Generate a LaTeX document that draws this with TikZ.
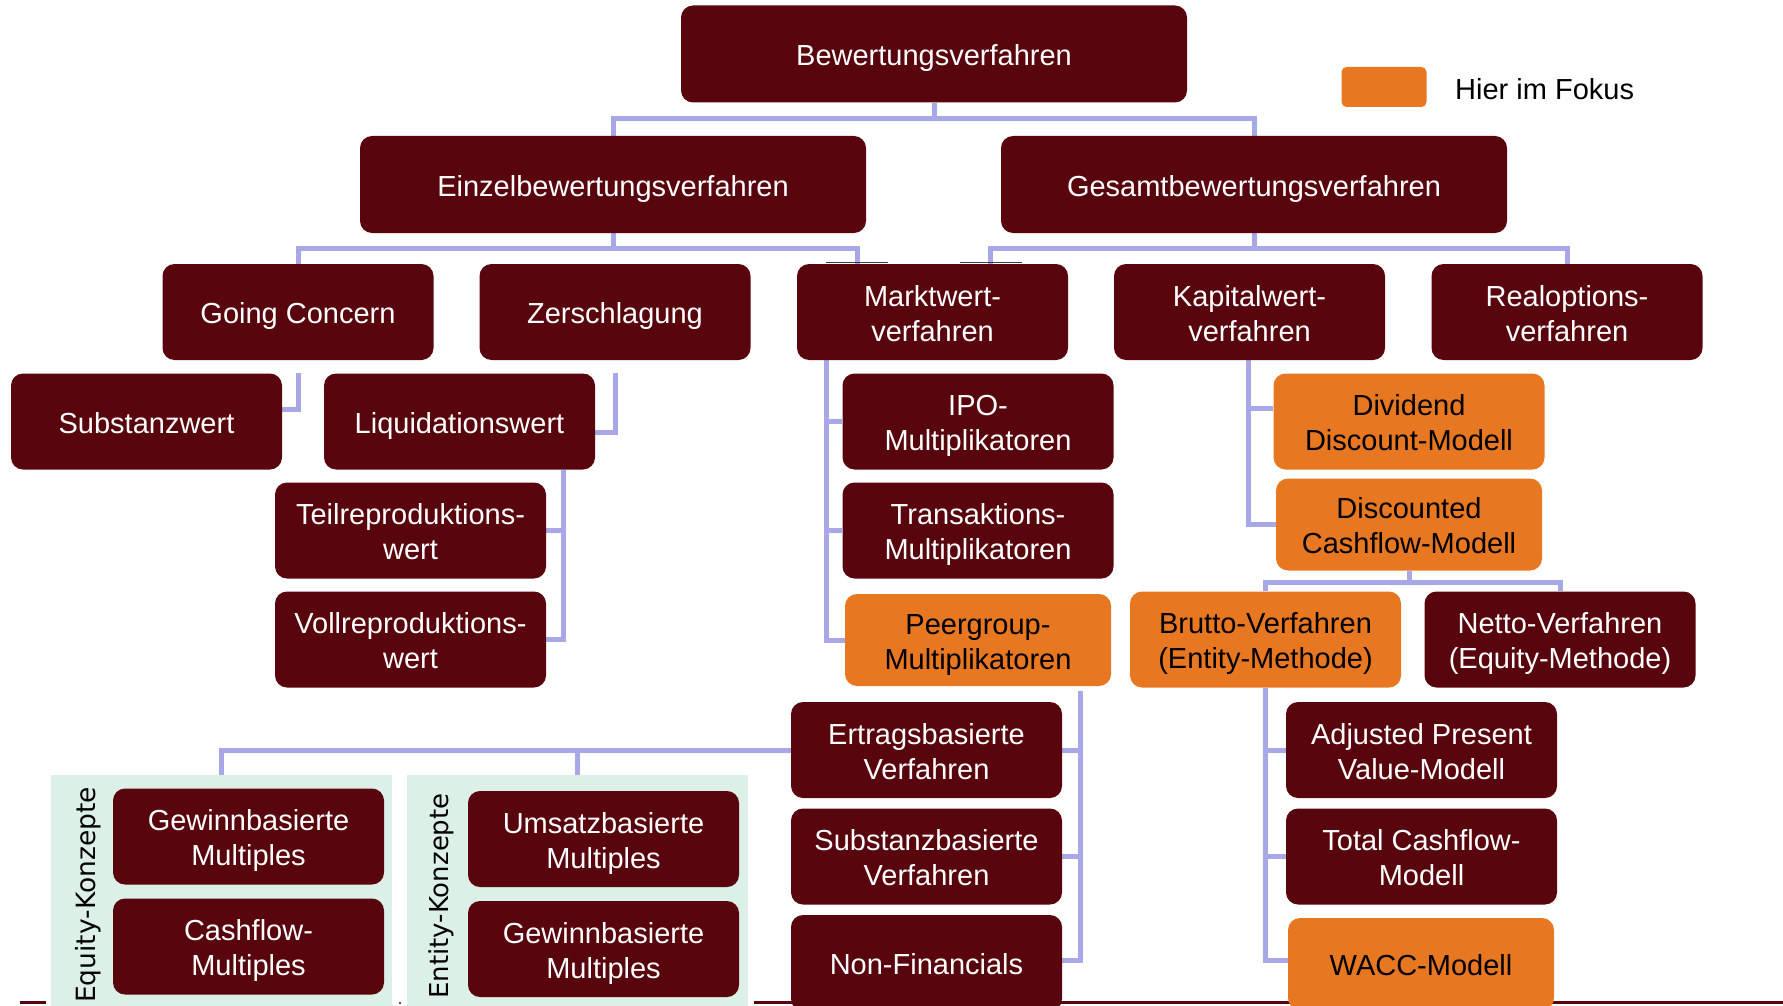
\documentclass[tikz,border=0pt]{standalone}
\usepackage{fontspec}
\setmainfont{Liberation Sans}
\newfontfamily\dejavu{DejaVu Sans}
\usetikzlibrary{backgrounds}
\definecolor{boxred}{HTML}{58050E}
\definecolor{focus}{HTML}{E87722}
\definecolor{connc}{HTML}{A8A8E8}
\definecolor{bggreen}{HTML}{DCF0E7}
\definecolor{markc}{HTML}{3A3A3A}
\newcommand\bx[1]{\raisebox{-4.5pt}[\height][\depth]{\begin{tabular}{@{}c@{}}#1\end{tabular}}}
\tikzset{
 box/.style={rounded corners=12pt, fill=boxred, text=white,
   font=\fontsize{29}{35}\selectfont, minimum width=271pt, minimum height=96pt, inner sep=0pt},
 focusbox/.style={box, fill=focus, text=black, minimum width=266pt, minimum height=92pt},
 widebox/.style={minimum width=506pt, minimum height=97pt},
 link/.style={draw=connc, line width=5pt, line join=miter},
 groupbg/.style={fill=bggreen, draw=none, anchor=north west, inner sep=0pt,
   minimum width=341pt, minimum height=240pt},
 grouplabel/.style={rotate=90, font=\dejavu\fontsize{26.5}{30}\selectfont, inner sep=0pt},
}
\begin{document}
\begin{tikzpicture}[x=1pt,y=-1pt]
\useasboundingbox (0,0) rectangle (1783,1006);
\clip (0,0) rectangle (1783,1006);

% bottom rule
\draw[boxred, line width=3pt] (20,1002) -- (46,1002);
\draw[boxred, line width=3pt] (754,1002) -- (1783,1002);
\fill[boxred] (400,1003) circle (1.2pt);

% group backgrounds
\node[groupbg] (eqbg) at (51,775) {};
\node[groupbg] (enbg) at (407,775) {};
\node[grouplabel] (eqlabel) at (88,895) {Equity-Konzepte};
\node[grouplabel, font=\dejavu\fontsize{26}{30}\selectfont] (enlabel) at (441,896) {Entity-Konzepte};

% nodes
\node[box, widebox] (bew) at (934,54) {\bx{Bewertungsverfahren}};
\node[box, widebox] (einz) at (613,184.5) {\bx{Einzelbewertungsverfahren}};
\node[box, widebox] (gesamt) at (1254,184.5) {\bx{Gesamtbewertungsverfahren}};

\node[box] (going) at (298,312) {\bx{Going Concern}};
\node[box] (zersch) at (615,312) {\bx{Zerschlagung}};
\node[box] (markt) at (932.5,312) {\bx{Marktwert-\\verfahren}};
\node[box] (kapital) at (1249.5,312) {\bx{Kapitalwert-\\verfahren}};
\node[box] (realopt) at (1567,312) {\bx{Realoptions-\\verfahren}};

\node[box] (substanz) at (146.5,421.5) {\bx{Substanzwert}};
\node[box] (liquid) at (459.5,421.5) {\bx{Liquidationswert}};
\node[box] (teil) at (410.5,530.5) {\bx{Teilreproduktions-\\wert}};
\node[box] (voll) at (410.5,639.5) {\bx{Vollreproduktions-\\wert}};

\node[box] (ipo) at (978,421.5) {\bx{IPO-\\Multiplikatoren}};
\node[box] (trans) at (978,530.5) {\bx{Transaktions-\\Multiplikatoren}};
\node[focusbox] (peer) at (978,640) {\bx{Peergroup-\\Multiplikatoren}};

\node[box, fill=focus, text=black] (ddm) at (1409,421.5) {\bx{Dividend\\Discount-Modell}};
\node[focusbox] (dcf) at (1409,524.5) {\bx{Discounted\\Cashflow-Modell}};
\node[box, fill=focus, text=black] (brutto) at (1265.5,639.5) {\bx{Brutto-Verfahren\\(Entity-Methode)}};
\node[box] (netto) at (1560,639.5) {\bx{Netto-Verfahren\\(Equity-Methode)}};

\node[box] (ertrag) at (926.5,750) {\bx{Ertragsbasierte\\Verfahren}};
\node[box] (substb) at (926.5,856.5) {\bx{Substanzbasierte\\Verfahren}};
\node[box] (nonfin) at (926.5,963) {\bx{Non-Financials}};

\node[box] (apv) at (1421.5,750) {\bx{Adjusted Present\\Value-Modell}};
\node[box] (tcf) at (1421.5,856.5) {\bx{Total Cashflow-\\Modell}};
\node[focusbox] (wacc) at (1421,964) {\bx{WACC-Modell}};

\node[box] (gew1) at (248.5,836.5) {\bx{Gewinnbasierte\\Multiples}};
\node[box] (cash) at (248.5,946.5) {\bx{Cashflow-\\Multiples}};
\node[box] (ums) at (603.5,839) {\bx{Umsatzbasierte\\Multiples}};
\node[box] (gew2) at (603.5,949) {\bx{Gewinnbasierte\\Multiples}};

% legend
\node[fill=focus, rounded corners=5pt, minimum width=85pt, minimum height=40pt, inner sep=0pt] (leg) at (1384,87) {};
\node[anchor=base west, inner sep=0pt, font=\fontsize{29}{35}\selectfont] (legtext) at (1455,99.5) {Hier im Fokus};

% small dark marks on top of Marktwert box
\draw[markc, line width=1.5pt] ([xshift=-106.5pt,yshift=1.5pt]markt.north) -- ++(62,0);
\draw[markc, line width=1.5pt] ([xshift=27.5pt,yshift=1.5pt]markt.north) -- ++(62,0);

% connectors (drawn behind boxes)
\begin{scope}[on background layer]
 % level 1
 \draw[link] (bew.south) -- ++(0,16) coordinate (j1);
 \draw[link] (einz.north) |- (j1) -| (gesamt.north);
 % level 2
 \draw[link] (einz.south) -- ++(0,15) coordinate (j2);
 \draw[link] (going.north) |- (j2) -| ([xshift=-75.5pt]markt.north);
 \draw[link] (gesamt.south) -- ++(0,15) coordinate (j3);
 \draw[link] ([xshift=57.5pt]markt.north) |- (j3) -| (realopt.north);
 % Going Concern / Zerschlagung
 \draw[link] (going.south |- substanz.north) |- ([yshift=12.5pt]substanz.east);
 \draw[link] (zersch.south |- liquid.north) |- ([yshift=-10.5pt]liquid.east);
 % Liquidationswert
 \coordinate (v6) at ([xshift=17pt]teil.east);
 \draw[link] (v6 |- liquid.south) |- (voll.east);
 \draw[link] (v6) -- (teil.east);
 % Marktwert
 \coordinate (v7) at ([xshift=-16pt]ipo.west);
 \draw[link] (v7 |- markt.south) |- (peer.west);
 \draw[link] (v7) -- (ipo.west);
 \draw[link] (v7 |- trans.west) -- (trans.west);
 % Kapitalwert
 \coordinate (v8) at ([xshift=-27pt]dcf.west);
 \coordinate (d8) at ([yshift=13.5pt]ddm.west);
 \draw[link] (v8 |- kapital.south) |- (dcf.west);
 \draw[link] (v8 |- d8) -- (d8);
 % DCF
 \draw[link] (dcf.south) -- ++(0,12) coordinate (j9);
 \draw[link] (brutto.north) |- (j9) -| (netto.north);
 % Brutto
 \draw[link] (brutto.south) |- ([yshift=4pt]wacc.west);
 \draw[link] (brutto.south |- apv.west) -- (apv.west);
 \draw[link] (brutto.south |- tcf.west) -- (tcf.west);
 % Peergroup
 \coordinate (v11) at ([xshift=18pt]ertrag.east);
 \coordinate (p11) at ([yshift=-5pt]peer.south);
 \draw[link] (v11 |- p11) |- ([yshift=3pt]nonfin.east);
 \draw[link] (v11) -- (ertrag.east);
 \draw[link] (v11 |- substb.east) -- (substb.east);
 % Ertragsbasierte -> groups
 \draw[link] (ertrag.west) -| (eqbg.north);
 \draw[link] (enbg.north) -- (enbg.north |- ertrag.west);
\end{scope}
\end{tikzpicture}
\end{document}
